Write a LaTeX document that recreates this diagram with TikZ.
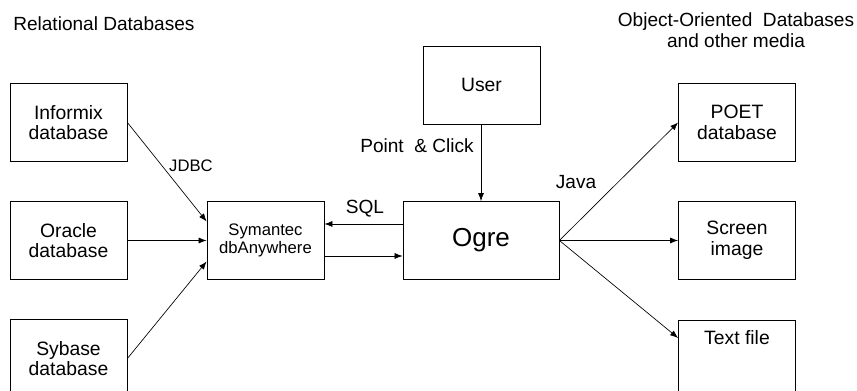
\documentclass[tikz,border=0pt]{standalone}
\usepackage{fontspec}
\setmainfont{Liberation Sans}
\usepackage{tikz}
\usetikzlibrary{calc,arrows.meta}

\begin{document}
\begin{tikzpicture}[x=0.75pt,y=0.75pt,yscale=-1,xscale=1,
  box/.style={draw,line width=0.6pt,minimum width=87.75pt,minimum height=58.5pt,inner sep=0pt,align=center,font=\fontsize{14.5}{15.5}\selectfont},
  lbl/.style={inner sep=0.75pt,font=\fontsize{14.3}{15.5}\selectfont},
  conn/.style={line width=0.5pt,-{Latex[length=6pt,width=4.5pt]}}]
\clip (0,0) rectangle (857,391);
% Headings
\draw (12,24) node [anchor=west][lbl] (relhead) {Relational Databases};
\draw (736,30) node [lbl,align=center] (oohead) {Object-Oriented\ \ Databases\\and other media};
%Shape: Rectangle (relational side)
\node [box] (informix) at (68.5,122.5) {Informix\\database};
\node [box] (oracle) at (68.5,240.5) {Oracle\\database};
\node [box] (sybase) at (68.5,358.5) {Sybase\\database};
%Shape: Rectangle (middle)
\node [box,font=\fontsize{12.5}{14}\selectfont] (symantec) at (265.5,240.5) {Symantec\\dbAnywhere};
\node [box,minimum width=117pt,font=\fontsize{19.5}{21}\selectfont] (ogre) at (481,240.5) {Ogre};
\node [box] (user) at (481.5,85) {User};
%Shape: Rectangle (output side)
\node [box] (poet) at (737,122.5) {POET\\database};
\node [box] (screen) at (737,240.5) {Screen\\image};
\node [box,anchor=north,minimum height=75pt] (textfile) at (737,320) {};
\draw (737,338) node [lbl,font=\fontsize{14.5}{15.5}\selectfont] (tflabel) {Text file};
% Connectors
\draw [conn] (informix.east) -- ($(symantec.west)+(0,-19)$);
\draw [conn] (oracle.east) -- (symantec.west);
\draw [conn] (sybase.east) -- ($(symantec.west)+(0,21)$);
\draw [conn] ($(ogre.west)+(0,-16.5)$) -- ($(symantec.east)+(0,-16.5)$);
\draw [conn] ($(symantec.east)+(0,15.5)$) -- ($(ogre.west)+(0,15.5)$);
\draw [conn] (user.south -| ogre.north) -- (ogre.north);
\draw [conn] (ogre.east) -- (poet.west);
\draw [conn] (ogre.east) -- (screen.west);
\draw [conn] (ogre.east) -- (textfile.west |- tflabel);
% Text Node
\draw (191,166) node [lbl,font=\fontsize{12.5}{14}\selectfont] (jdbc) {JDBC};
\draw (365,209) node [lbl] (sql) {SQL};
\draw (417,146) node [lbl] (click) {Point\ \ \& Click};
\draw (576,182) node [lbl] (java) {Java};
\end{tikzpicture}
\end{document}
